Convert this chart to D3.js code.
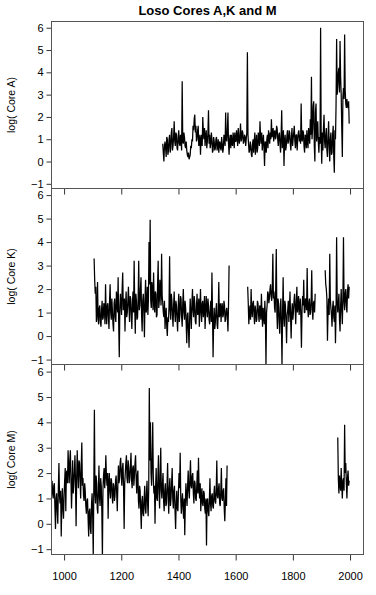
<!DOCTYPE html>
<html>
<head>
<meta charset="utf-8">
<script src="https://cdn.jsdelivr.net/npm/d3@7"></script>
<style>
    body { margin: 0; background: #fff; }
    text { font-family: Arial, "Liberation Sans", sans-serif; fill: #000; }
</style>
</head>
<body>
<div id="chart"></div>
<script>

// ---- data (log values, one reading every 2 years from the segment start) ----
const yearStep = 2;
const xTicks = [1000, 1200, 1400, 1600, 1800, 2000];
const yTicks = [-1, 0, 1, 2, 3, 4, 5, 6];
const panelLabels = ["log( Core A)", "log( Core K)", "log( Core M)"];

// Core A, 1345 onwards
const coreA_1345 = [
    0.8, 0.4, 0.0, 0.7, 0.9, 0.6, 0.2, 1.1, 1.0, 0.3, 0.5, 1.0, 1.2, 0.4, 0.6, 1.3, 1.5, 0.5, 0.7, 1.1,
    1.8, 0.9, 0.7, 1.3, 1.2, 0.6, 0.5, 1.1, 1.4, 0.8, 0.7, 1.2, 1.0, 0.5, 3.6, 0.9, 0.8, 1.3, 1.1, 0.7,
    0.6, 0.9, 0.5, 0.3, 0.2, 0.4, 0.1, 0.2, 0.3, 0.7, 0.6, 1.0, 0.9, 1.6, 1.4, 1.9, 2.1, 1.3, 1.6, 0.9,
    1.0, 1.4, 1.6, 0.7, 0.8, 1.2, 0.3, 1.0, 1.2, 0.7, 2.0, 1.3, 1.0, 1.5, 0.7, 1.1, 1.4, 0.6, 0.9, 1.3,
    2.3, 0.8, 1.2, 0.6, 0.8, 1.3, 1.0, 0.4, 0.5, 1.1, 0.9, 0.5, 0.6, 1.0, 1.1, 0.5, 0.7, 1.0, 0.4, 0.8,
    0.9, 0.6, 0.5, 1.1, 0.8, 0.4, 0.6, 1.2, 1.0, 0.7, 2.2, 1.0, 0.9, 1.4, 2.2, 0.8, 0.3, 1.0, 1.2, 0.6,
    1.2, 0.8, 0.7, 1.3, 1.0, 0.6, 1.3, 0.9, 0.9, 1.4, 1.1, 0.7, 1.5, 1.0, 0.8, 1.2, 1.7, 0.9, 1.0, 1.4,
    1.3, 0.8, 0.9, 1.2, 1.1, 0.7, 1.0, 1.3, 4.9, 1.2, 0.8, 0.4, 0.5, 0.9, 0.7, 0.3, 0.2, 0.8, 1.0, 0.4,
    0.9, 1.3, 0.3, 0.8, 1.2, 0.4, 0.6, 1.3, 1.0, 0.7, 1.8, 1.1, 0.8, 1.3, 0.5, 0.9, 1.2, 0.6, -0.2, 0.9,
    0.8, 0.4, 1.0, 1.2, 0.6, 1.4, 1.1, 0.8, 1.3, 1.0, 1.9, 1.1, 1.2, 1.5, 0.9, 1.3, 1.4, 1.0, 1.1, 1.6,
    1.5, 1.0, 0.7, 1.2, 1.3, 0.8, 0.4, 1.2, 2.3, 0.6, 1.0, 1.4, -0.2, 0.9, 1.2, 0.5, 0.7, 1.1, 1.4, 0.8,
    0.9, 1.4, 1.3, 0.8, 0.5, 1.1, 1.5, 0.7, 1.0, 1.3, 1.6, 0.9, 0.6, 1.2, 1.2, 0.5, 1.0, 1.3, 1.4, 0.9,
    1.2, 0.8, 2.6, 1.0, 0.9, 1.4, 1.3, 0.7, 0.4, 1.2, 1.1, 0.6, 1.4, 0.9, 0.6, 1.5, 1.2, 0.8, 1.9, 1.2,
    3.8, 1.0, 1.5, 2.5, 2.7, 0.7, 0.0, 2.2, 2.6, 0.9, 1.2, 1.8, 0.9, 0.4, 1.1, 0.8, 6.0, 1.1, -0.1, 1.3,
    0.5, 1.5, 2.1, 0.9, 0.6, 1.2, 1.5, 0.5, 0.2, 1.1, 1.8, 0.7, 0.0, 1.0, 1.3, 0.3, 0.4, 1.2, 1.6, 0.2,
    -0.5, 1.4, 1.0, 2.5, 5.5, 3.0, 3.4, 4.0, 4.2, 3.1, 5.4, 3.8, 3.0, 1.5, 0.2, 2.9, 3.3, 2.8, 5.7, 3.2,
    2.6, 2.4, 2.8, 2.5, 2.4, 2.7, 1.7
];

// Core K, three pieces
const coreK_1105 = [
    3.3, 2.4, 1.8, 2.1, 0.6, 1.0, 2.3, 0.7, 0.5, 1.2, 1.3, 0.6, 0.4, 1.1, 1.5, 0.7, 0.8, 1.4, 1.2, 0.5,
    2.2, 1.0, 0.5, 1.3, 1.4, 0.8, 0.3, 1.5, 2.2, 1.0, 0.7, 1.6, 1.1, 0.5, 0.2, 1.4, 1.6, 0.8, 0.6, 1.9,
    1.5, 1.0, 2.5, 0.5, -0.9, 1.2, 1.8, 1.3, 0.9, 2.0, 2.7, 1.1, 1.2, 1.6, 0.2, 1.3, 1.9, 0.8, 1.0, 1.5,
    2.1, 1.2, 0.6, 1.7, 1.6, 0.9, 0.3, 1.4, 1.9, 1.0, 3.2, 1.3, 0.1, 1.8, 1.5, 0.7, 0.8, 1.6, 3.2, 1.1,
    1.3, 2.0, 2.5, 0.9, 0.2, 1.5, 1.8, 1.1, -0.05, 1.6, 2.4, 1.0, 1.2, 2.1, 0.9, 1.6, 4.0, 2.2, 4.95, 1.5,
    1.2, 2.3, 2.0, 1.1, 2.7, 1.4, 1.0, 1.9, 1.8, 0.8, 0.9, 2.2, 3.2, 1.2, 1.5, 2.4, 2.0, 1.3, 3.5, 1.7,
    1.4, 1.0, 0.8, 1.5, 0.3, 0.9, 1.2, 0.4, 0.0, 0.8, 0.6, 1.3, 3.4, 1.1, 0.7, 1.8, 1.5, 0.9, 0.4, 1.3,
    1.9, 1.0, 0.6, 1.5, 1.3, 0.7, 0.2, 1.2, 1.8, 0.6, 0.9, 1.7, 1.6, 0.8, 0.4, 1.4, 2.0, 1.0, 0.7, 1.5,
    1.2, 0.5, -0.3, 0.9, 1.0, 0.2, -0.5, 0.7, 1.6, 0.9, 0.3, 1.4, 2.0, 1.1, 0.8, 1.7, 1.4, 0.6, 0.5, 1.3,
    1.8, 0.9, 1.0, 1.6, 0.4, 1.2, 2.0, 1.0, 0.6, 1.4, 1.5, 0.8, 1.1, 1.7, 0.3, 1.0, 1.7, 1.2, 0.8, 1.6,
    1.3, 0.7, 0.5, 1.1, 1.5, 0.6, 2.7, 1.0, -0.9, 0.6, 1.2, 0.3, 0.6, 1.1, 1.4, 0.5, 0.3, 1.0, 2.3, 0.8,
    1.0, 1.4, 0.6, 1.2, 1.4, 0.8, 0.9, 1.5, 1.3, 0.6, 0.7, 1.1, 1.2, 0.8, 0.2, 1.3, 3.0
];
const coreK_1642 = [
    2.1, 1.4, 0.5, 1.0, 1.3, 0.7, 2.0, 1.1, 0.8, 1.4, 1.5, 0.9, 0.5, 1.3, 1.1, 0.6, 0.7, 1.5, 1.4, 0.9,
    0.6, 1.3, 1.2, 0.7, 1.8, 1.0, 0.4, 1.2, 0.9, 0.5, 1.5, 0.8, -1.25, 1.0, 1.3, 1.9, 1.8, 1.4, 1.6, 2.0,
    2.2, 1.7, 1.5, 2.0, 3.5, 1.6, 1.9, 1.2, 1.0, 2.0, 3.7, 1.0, 0.3, 1.6, 1.4, 0.6, 0.1, 1.2, 1.6, 0.5,
    -1.25, 1.0, 2.5, 0.8, 0.4, 1.5, 1.3, 0.6, -0.3, 0.9, 1.1, 1.5, 0.6, 1.2, 1.9, 0.8, -0.1, 1.0, 1.4, 0.7,
    1.0, 1.5, 1.8, 1.2, 0.5, 1.4, 2.1, 1.0, 1.3, 1.7, 0.9, 1.3, 1.6, 0.8, -0.5, 1.1, 1.7, 1.3, 2.4, 1.0,
    1.0, 1.6, 1.5, 1.1, 2.9, 1.2, 0.8, 1.4, 1.6, 0.9, 1.0, 1.5, 2.8, 1.1, 0.7, 1.4, 1.5, 1.0, 1.8
];
const coreK_1913 = [
    2.8, 2.2, 2.0, 1.6, -0.2, 1.0, 1.6, 0.9, 3.5, 1.6, 1.2, 0.9, 0.4, 1.2, 1.5, 0.8, 0.6, 1.3, -0.3, 1.0,
    4.2, 1.5, 1.0, 1.4, 1.8, 0.7, 0.2, 1.3, 2.0, 1.1, 0.5, 1.6, 4.2, 1.5, 1.1, 1.8, 2.0, 1.3, 1.0, 1.9,
    2.2, 1.6, 2.1
];

// Core M, two pieces
const coreM_958 = [
    1.7, 1.2, 1.0, 1.5, 1.6, 0.6, -0.2, 1.0, 1.2, 0.5, 0.0, 1.4, 2.4, 1.1, 0.8, 1.3, -0.5, 0.7, 1.4, 0.6,
    0.2, 1.1, 1.7, 2.2, 0.5, 2.0, 2.1, 1.6, 2.9, 2.2, 1.6, 2.5, 2.9, 1.8, 0.6, 1.5, 2.5, 1.2, 1.5, 2.1,
    2.7, 1.6, -0.1, 1.8, 2.9, 2.0, 1.4, 2.5, 2.4, 1.7, 1.0, 2.3, 3.2, 1.5, 1.8, 1.1, 0.9, 1.6, 1.3, 0.7,
    0.4, 0.9, 1.0, 0.2, -0.5, 0.5, 0.6, -0.2, -0.4, 0.8, 1.2, 0.3, -1.3, 1.5, 4.5, 1.2, 0.8, 1.9, 1.6, 0.6,
    0.4, 1.4, 2.3, 1.0, 0.7, 1.8, 1.5, 0.5, -1.3, 1.4, 1.9, 2.2, 1.4, 1.8, 2.7, 1.9, 1.5, 2.0, 0.2, 1.6,
    2.0, 1.3, 1.0, 1.8, 1.7, 1.1, 0.8, 1.6, 1.5, 0.9, 1.1, 1.7, 1.9, 1.2, 0.5, 1.5, 2.3, 1.6, 1.8, 2.4,
    2.6, 1.9, 1.5, 2.2, 2.4, 1.4, -0.2, 1.6, 2.0, 2.4, 2.7, 1.8, 1.6, 2.5, 2.2, 1.6, 1.8, 2.3, 2.8, 1.7,
    1.4, 2.2, 2.3, 1.5, 1.9, 2.4, 2.7, 1.8, 1.2, 1.9, 2.1, 0.9, 0.6, 1.5, 1.3, 0.5, -0.2, 0.9, 1.1, 0.4,
    0.3, 1.0, 1.5, 0.6, 0.4, 1.2, 1.7, 0.8, 0.3, 1.4, 5.35, 2.5, 4.0, 2.0, 1.5, 2.6, 4.0, 1.8, 1.2, 1.5,
    0.0, 1.4, 2.2, 1.0, 0.9, 1.8, 2.7, 1.2, 0.6, 1.9, 3.0, 1.3, 1.0, 1.6, 2.0, 0.9, 0.5, 1.3, 1.6, 0.7,
    0.8, 1.5, 2.4, 1.1, 0.4, 1.4, 1.8, 0.7, 1.0, 1.6, 2.2, 1.0, 0.6, 1.3, 1.5, 0.5, -0.2, 0.8, 1.3, 0.6,
    0.5, 1.3, 2.0, 1.4, 2.8, 1.0, 0.4, 0.9, 1.2, 0.6, 0.2, 1.0, -0.45, 0.8, 1.6, 1.1, 0.7, 1.5, 2.1, 1.3,
    1.0, 1.8, 2.5, 1.5, 1.4, 1.9, 2.0, 1.2, 0.8, 1.7, 1.6, 1.0, 0.9, 1.5, 2.1, 1.2, 2.6, 1.4, 1.0, 1.6,
    0.5, 1.1, 1.4, 0.8, 0.7, 1.3, 1.2, 0.6, 0.4, 1.0, -0.85, 0.9, 1.0, 0.5, 0.3, 0.9, 1.8, 0.8, 0.5, 1.1,
    1.2, 0.7, 0.6, 1.2, 1.5, 0.9, 0.8, 1.3, 2.5, 1.1, 1.0, 1.4, 1.6, 0.8, 0.7, 1.3, 2.2, 1.0, 0.9, 1.3,
    1.4, 0.6, 0.1, 0.9, 1.8, 0.7, 2.3
];
const coreM_1957 = [
    3.4, 1.8, 1.2, 1.9, 1.6, 1.3, 2.2, 1.5, 1.0, 1.7, 1.8, 1.3, 3.9, 2.0, 2.4, 1.6, 1.0, 1.8, 2.1, 1.5,
    1.7
];


class CorePanel {

    constructor(_svg, _label, _segments, _top, _bottom, _isLast) {
        this.svg = _svg;
        this.label = _label;
        this.segments = _segments;
        this.top = _top;
        this.bottom = _bottom;
        this.isLast = _isLast;

        this.initVis();
    }

    initVis() {
        let vis = this;

        vis.left = 51.5;
        vis.right = 363.5;

        vis.x = d3.scaleLinear()
            .domain([956, 2047])
            .range([vis.left, vis.right]);

        vis.y = d3.scaleLinear()
            .domain([-1.21, 6.28])
            .range([vis.bottom, vis.top]);

        vis.g = vis.svg.append("g");

        let clipId = "clip-" + vis.label.replace(/[^A-Za-z]/g, "");
        vis.g.append("clipPath")
            .attr("id", clipId)
            .append("rect")
            .attr("x", vis.left)
            .attr("y", vis.top)
            .attr("width", vis.right - vis.left)
            .attr("height", vis.bottom - vis.top);

        vis.wrangleData();

        vis.line = d3.line()
            .x(d => vis.x(d.year))
            .y(d => vis.y(d.value));

        vis.g.append("g")
            .attr("clip-path", "url(#" + clipId + ")")
            .selectAll("path")
            .data(vis.displayData)
            .join("path")
            .attr("d", vis.line)
            .attr("fill", "none")
            .attr("stroke", "#000")
            .attr("stroke-width", 1.25)
            .attr("stroke-linejoin", "bevel");

        // y axis on the left
        let yAxis = vis.g.append("g")
            .attr("transform", "translate(" + vis.left + ",0)")
            .call(d3.axisLeft(vis.y).tickValues(yTicks).tickSize(5).tickPadding(3).tickFormat(d3.format("d")));
        yAxis.select(".domain").remove();
        yAxis.selectAll("line").attr("stroke", "#333");
        yAxis.selectAll("text")
            .attr("font-size", 11)
            .attr("font-family", "Arial, 'Liberation Sans', sans-serif");

        // x ticks below every panel (they poke into the panel underneath)
        let xAxis = vis.g.append("g")
            .attr("transform", "translate(0," + vis.bottom + ")")
            .call(d3.axisBottom(vis.x).tickValues(xTicks).tickSize(6).tickPadding(12).tickFormat(d3.format("d")));
        xAxis.select(".domain").remove();
        xAxis.selectAll("line").attr("stroke", "#333");
        xAxis.selectAll("text")
            .attr("font-size", 11)
            .attr("font-family", "Arial, 'Liberation Sans', sans-serif")
            .style("display", vis.isLast ? null : "none");

        // frame
        vis.g.append("rect")
            .attr("x", vis.left)
            .attr("y", vis.top)
            .attr("width", vis.right - vis.left)
            .attr("height", vis.bottom - vis.top)
            .attr("fill", "none")
            .attr("stroke", "#555")
            .attr("stroke-width", 1);

        vis.g.append("text")
            .attr("transform", "translate(15," + (vis.top + vis.bottom) / 2 + ") rotate(-90)")
            .attr("text-anchor", "middle")
            .attr("font-size", 10.5)
            .text(vis.label);
    }

    wrangleData() {
        let vis = this;
        vis.displayData = vis.segments.map(s =>
            s.values.map((v, i) => ({year: s.start + i * yearStep, value: v})));
    }
}


let svg = d3.select("#chart").append("svg")
    .attr("width", 376)
    .attr("height", 595);

svg.append("text")
    .attr("x", 207.5)
    .attr("y", 15)
    .attr("text-anchor", "middle")
    .attr("font-size", 13)
    .attr("font-weight", "bold")
    .text("Loso Cores A,K and M");

new CorePanel(svg, panelLabels[0], [{start: 1345, values: coreA_1345}], 21.5, 188.5, false);
new CorePanel(svg, panelLabels[1], [
    {start: 1105, values: coreK_1105},
    {start: 1642, values: coreK_1642},
    {start: 1913, values: coreK_1913}
], 188.5, 364.5, false);
new CorePanel(svg, panelLabels[2], [
    {start: 958, values: coreM_958},
    {start: 1957, values: coreM_1957}
], 364.5, 554.5, true);

</script>
</body>
</html>
